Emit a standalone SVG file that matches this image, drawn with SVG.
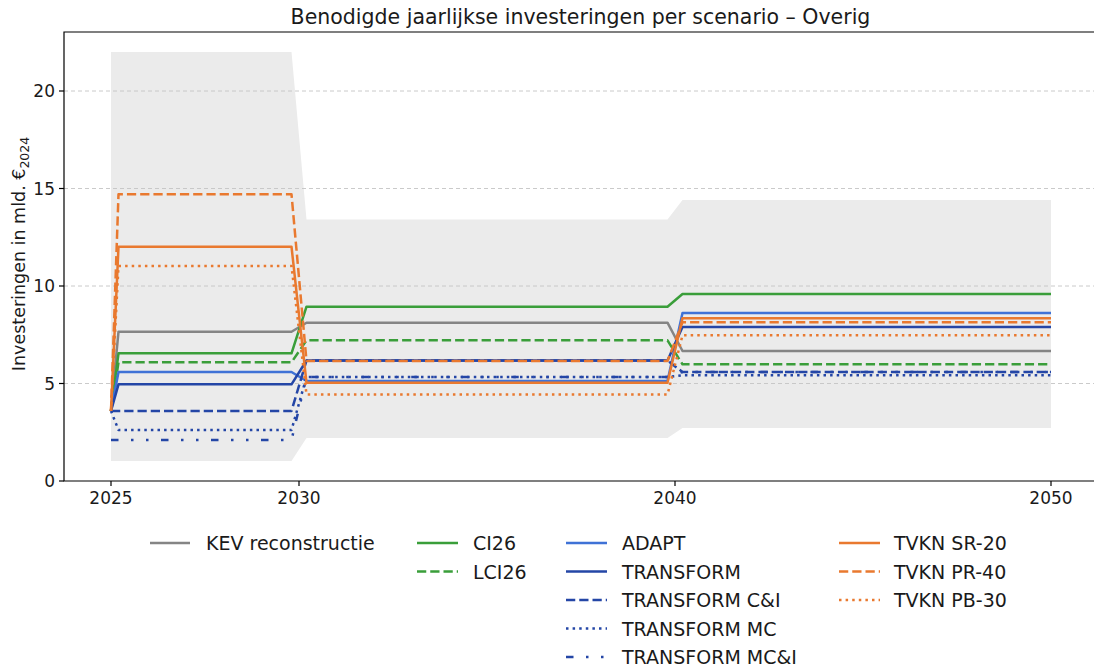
<svg xmlns="http://www.w3.org/2000/svg" width="1094" height="667" viewBox="0 0 1094 667">
<style>
text{font-family:"DejaVu Sans","Liberation Sans",sans-serif;fill:#1a1a1a}
.tick{font-size:17px}
.leg{font-size:19px}
.s{fill:none;stroke-width:2.5;stroke-linejoin:round;stroke-linecap:butt}
.grid{stroke:#c4c4c4;stroke-width:0.9;stroke-dasharray:4,3;fill:none}
.kev{stroke:#858585}
.grn{stroke:#3a9e3a}
.lb{stroke:#3f72d6}
.db{stroke:#2446a6}
.or{stroke:#e9792f}
.dash{stroke-dasharray:9.25,4}
.dot{stroke-dasharray:2.5,4.1}
.dd{stroke-dasharray:7.5,12.5,2.5,12.5,2.5,12.5}
.ax{stroke:#000;stroke-width:1.2;fill:none}
</style>
<rect width="1094" height="667" fill="#fff"/>
<g id="band">
<polygon points="111,52 291.5,52 306.5,219.6 667.5,219.6 682.5,200 1051,200 1051,428 682.5,428 667.5,438 306.5,438 291.5,461 111,461" fill="#ebebeb"/>
</g>
<g id="grid">
<line class="grid" x1="64" y1="91" x2="1094" y2="91"/>
<line class="grid" x1="64" y1="188.5" x2="1094" y2="188.5"/>
<line class="grid" x1="64" y1="286" x2="1094" y2="286"/>
<line class="grid" x1="64" y1="383.5" x2="1094" y2="383.5"/>
</g>
<g id="series">
<polyline class="s kev" points="111,411 118.5,331.7 291.5,331.7 306.5,322.7 667.5,322.7 682.5,351 1051,351"/>
<polyline class="s grn" points="111,411 118.5,353.3 291.5,353.3 306.5,306.7 667.5,306.7 682.5,294 1051,294"/>
<polyline class="s grn dash" points="111,411 118.5,362.3 291.5,362.3 306.5,340.3 667.5,340.3 682.5,364.3 1051,364.3"/>
<polyline class="s lb" points="111,411 118.5,372 291.5,372 306.5,381 667.5,381 682.5,313 1051,313"/>
<polyline class="s db" points="111,411 118.5,384.3 291.5,384.3 306.5,360.5 667.5,360.5 682.5,327 1051,327"/>
<polyline class="s db dash" points="111,411 118.5,411 291.5,411 306.5,360.5 667.5,360.5 682.5,372 1051,372"/>
<polyline class="s db dot" points="111,411 118.5,430 291.5,430 306.5,377 667.5,377 682.5,375.3 1051,375.3"/>
<polyline class="s db dd" points="111,440 118.5,440 291.5,440 306.5,377 667.5,377 682.5,372 1051,372"/>
<polyline class="s or" points="111,411 118.5,246.7 291.5,246.7 306.5,382.7 667.5,382.7 682.5,318.3 1051,318.3"/>
<polyline class="s or dash" points="111,411 118.5,194.3 291.5,194.3 306.5,361 667.5,361 682.5,322.3 1051,322.3"/>
<polyline class="s or dot" points="111,411 118.5,266 291.5,266 306.5,394.5 667.5,394.5 682.5,335.3 1051,335.3"/>
</g>
<g id="axes">
<polyline class="ax" points="1094,32 64,32 64,481 1094,481"/>
<g stroke="#000" stroke-width="1.2">
<line x1="59" y1="481" x2="64" y2="481"/>
<line x1="59" y1="383.5" x2="64" y2="383.5"/>
<line x1="59" y1="286" x2="64" y2="286"/>
<line x1="59" y1="188.5" x2="64" y2="188.5"/>
<line x1="59" y1="91" x2="64" y2="91"/>
<line x1="111" y1="481" x2="111" y2="486"/>
<line x1="299" y1="481" x2="299" y2="486"/>
<line x1="675" y1="481" x2="675" y2="486"/>
<line x1="1051" y1="481" x2="1051" y2="486"/>
</g>
<g class="tick" text-anchor="end">
<text x="55" y="487">0</text>
<text x="55" y="389.5">5</text>
<text x="55" y="292">10</text>
<text x="55" y="194.5">15</text>
<text x="55" y="97">20</text>
</g>
<g class="tick" text-anchor="middle">
<text x="111" y="504">2025</text>
<text x="299" y="504">2030</text>
<text x="675" y="504">2040</text>
<text x="1051" y="504">2050</text>
</g>
<text transform="translate(25,254) rotate(-90)" text-anchor="middle" font-size="17.5">Investeringen in mld. €<tspan font-size="12.5" dy="4">2024</tspan></text>
<text x="580.5" y="24" text-anchor="middle" font-size="20.5">Benodigde jaarlijkse investeringen per scenario – Overig</text>
</g>
<g id="legend">
<line class="s kev" x1="150" y1="543" x2="190" y2="543"/>
<text class="leg" x="206" y="550">KEV reconstructie</text>
<line class="s grn" x1="417" y1="543" x2="458" y2="543"/>
<text class="leg" x="473" y="550">CI26</text>
<line class="s grn dash" x1="417" y1="571.5" x2="458" y2="571.5"/>
<text class="leg" x="473" y="578.5">LCI26</text>
<line class="s lb" x1="566" y1="543" x2="607" y2="543"/>
<text class="leg" x="622" y="550">ADAPT</text>
<line class="s db" x1="566" y1="571.5" x2="607" y2="571.5"/>
<text class="leg" x="622" y="578.5">TRANSFORM</text>
<line class="s db dash" x1="566" y1="600" x2="607" y2="600"/>
<text class="leg" x="622" y="607">TRANSFORM C&amp;I</text>
<line class="s db dot" x1="566" y1="628.5" x2="607" y2="628.5"/>
<text class="leg" x="622" y="635.5">TRANSFORM MC</text>
<line class="s db dd" x1="566" y1="657" x2="607" y2="657"/>
<text class="leg" x="622" y="664">TRANSFORM MC&amp;I</text>
<line class="s or" x1="839" y1="543" x2="880" y2="543"/>
<text class="leg" x="894" y="550">TVKN SR-20</text>
<line class="s or dash" x1="839" y1="571.5" x2="880" y2="571.5"/>
<text class="leg" x="894" y="578.5">TVKN PR-40</text>
<line class="s or dot" x1="839" y1="600" x2="880" y2="600"/>
<text class="leg" x="894" y="607">TVKN PB-30</text>
</g>
</svg>
